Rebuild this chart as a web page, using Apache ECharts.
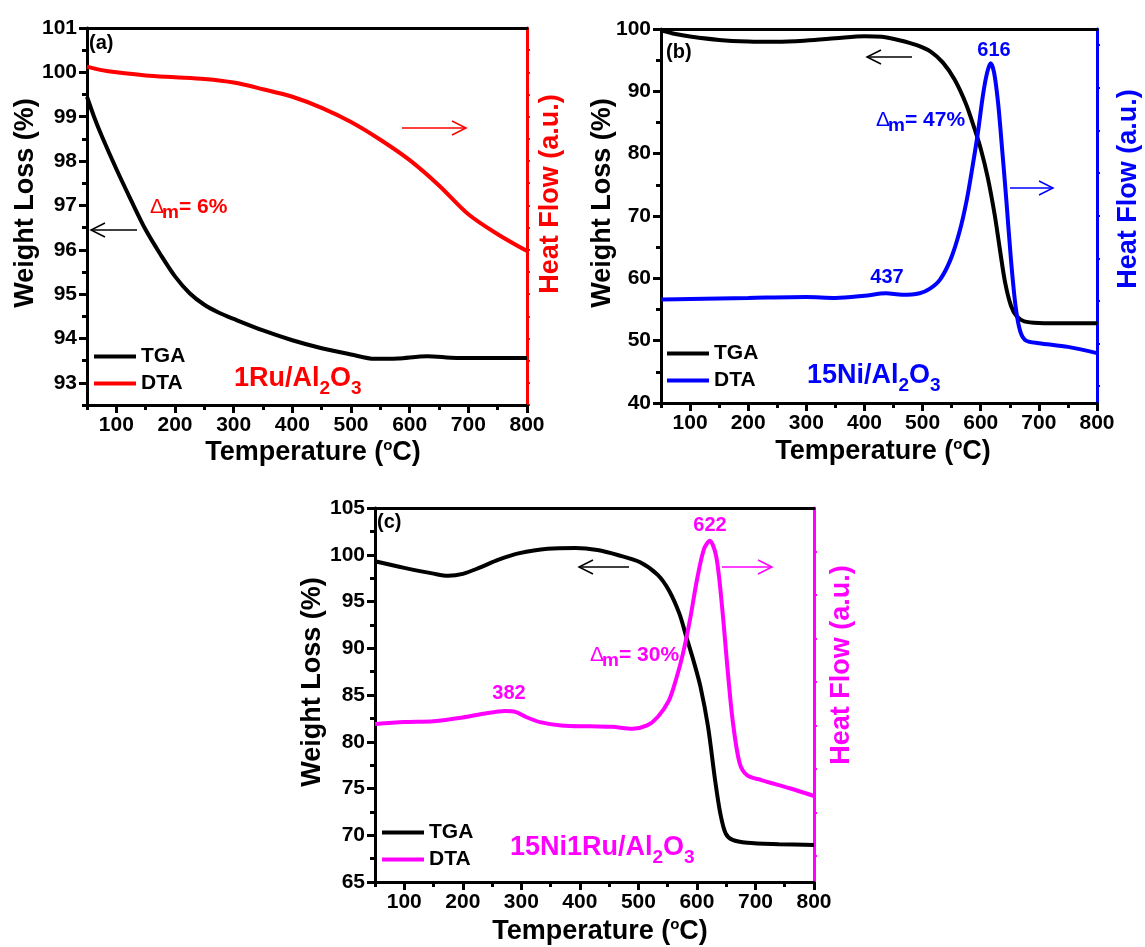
<!DOCTYPE html>
<html>
<head>
<meta charset="utf-8">
<script src="https://cdn.jsdelivr.net/npm/echarts@6/dist/echarts.min.js"></script>
<style>html,body{margin:0;padding:0;background:#fff}#chart{width:1145px;height:947px}</style>
</head>
<body>
<div id="chart"></div>
<script>
// ---------------- data ----------------
const tempMajor = [100, 200, 300, 400, 500, 600, 700, 800];
const tempMinor = [50, 150, 250, 350, 450, 550, 650, 750];

// (a) 1Ru/Al2O3
const tgaA = [[50,99.45],[62,99.0],[75,98.57],[100,97.82],[125,97.12],[150,96.45],[175,95.9],[200,95.4],[225,95.02],[250,94.76],[275,94.58],[300,94.44],[350,94.18],[400,93.96],[450,93.78],[500,93.64],[540,93.54],[580,93.55],[630,93.6],[680,93.56],[740,93.56],[800,93.56]];
const dtaA = [[50,100.13],[75,100.05],[100,100.0],[150,99.93],[200,99.89],[250,99.85],[300,99.77],[350,99.62],[400,99.45],[450,99.2],[500,98.88],[550,98.48],[600,98.02],[650,97.45],[700,96.8],[750,96.35],[800,95.97]];
const wlMajorA = [93, 94, 95, 96, 97, 98, 99, 100, 101];
const wlMinorA = [92.5, 93.5, 94.5, 95.5, 96.5, 97.5, 98.5, 99.5, 100.5];
const hfTicksA = [92.5, 93, 93.5, 94, 94.5, 95, 95.5, 96, 96.5, 97, 97.5, 98, 98.5, 99, 99.5, 100, 100.5];

// (b) 15Ni/Al2O3
const tgaB = [[50,99.8],[75,99.2],[100,98.8],[150,98.25],[200,98.0],[250,97.95],[300,98.15],[350,98.5],[400,98.85],[430,98.75],[460,98.2],[490,97.4],[515,96.3],[535,94.6],[555,91.9],[575,87.9],[590,83.8],[600,80.8],[612,76.2],[624,70.2],[633,64.6],[642,59.3],[652,55.6],[662,53.9],[675,53.1],[700,52.85],[750,52.8],[800,52.8]];
const dtaB = [[50,56.6],[100,56.7],[200,56.85],[300,57.0],[350,56.85],[400,57.2],[437,57.6],[465,57.35],[495,57.6],[512,58.3],[530,59.8],[548,63.0],[563,67.3],[576,72.6],[586,78.0],[595,83.3],[604,89.5],[611,93.0],[617,94.5],[623,93.0],[630,88.0],[637,80.5],[644,72.6],[652,63.0],[660,55.5],[668,51.5],[678,50.0],[700,49.6],[750,49.0],[800,48.0]];
const wlMajorB = [40, 50, 60, 70, 80, 90, 100];
const wlMinorB = [45, 55, 65, 75, 85, 95];
const hfTicksB = [42.7, 49.5, 56.4, 63.2, 70.0, 76.9, 83.7, 90.5, 97.4];

// (c) 15Ni1Ru/Al2O3
const tgaC = [[50,99.3],[100,98.6],[150,97.98],[175,97.75],[200,97.95],[230,98.65],[260,99.45],[295,100.15],[345,100.65],[393,100.72],[430,100.5],[466,99.95],[503,99.2],[533,97.85],[552,96.2],[570,93.7],[582,91.2],[594,88.7],[606,85.9],[619,81.6],[631,75.9],[640,72.3],[649,70.2],[661,69.5],[686,69.2],[740,69.05],[800,68.95]];
const dtaC = [[50,81.9],[100,82.1],[150,82.2],[200,82.6],[235,83.0],[272,83.3],[290,83.2],[308,82.65],[332,82.1],[368,81.75],[417,81.65],[455,81.6],[490,81.4],[515,81.75],[533,82.65],[552,84.4],[564,86.6],[576,89.4],[588,93.0],[600,97.3],[612,100.6],[622,101.5],[633,99.8],[643,94.4],[652,88.0],[661,82.3],[673,77.7],[686,76.4],[710,75.9],[760,75.0],[800,74.2]];
const wlMajorC = [65, 70, 75, 80, 85, 90, 95, 100, 105];
const wlMinorC = [67.5, 72.5, 77.5, 82.5, 87.5, 92.5, 97.5, 102.5];
const hfTicksC = [67.8, 72.45, 77.1, 81.75, 86.4, 91.05, 95.7, 100.35];

const seriesNames = ['TGA', 'DTA'];
const xTitle = 'Temperature ({o|o}C)';
const yTitle = 'Weight Loss (%)';
const y2Title = 'Heat Flow (a.u.)';

// ---------------- layout / styles ----------------
const FONT = '"Liberation Sans", Arial, Helvetica, sans-serif';
const RED = '#ff0000', BLUE = '#0000ff', MAG = '#ff00ff';

const panels = [
  { grid: {left: 87, top: 28, width: 440, height: 377}, yMin: 92.5, yMax: 101, yStep: 0.5,
    tga: tgaA, dta: dtaA, major: wlMajorA, minor: wlMinorA, hf: hfTicksA, color: RED, legend: {left: 94, top: 346} },
  { grid: {left: 661, top: 29, width: 436, height: 374}, yMin: 40, yMax: 100, yStep: 5,
    tga: tgaB, dta: dtaB, major: wlMajorB, minor: wlMinorB, hf: hfTicksB, color: BLUE, legend: {left: 667, top: 343} },
  { grid: {left: 375, top: 508, width: 439, height: 374}, yMin: 65, yMax: 105, yStep: 2.5,
    tga: tgaC, dta: dtaC, major: wlMajorC, minor: wlMinorC, hf: hfTicksC, color: MAG, legend: {left: 382, top: 822} }
];

const labelStyle = {fontFamily: FONT, fontWeight: 'bold', fontSize: 21, color: '#000'};

const option = {
  backgroundColor: '#fff', animation: false,
  grid: [], xAxis: [], yAxis: [], series: [], legend: [], graphic: []
};

panels.forEach((p, gi) => {
  option.grid.push(Object.assign({containLabel: false}, p.grid));
  // x axes: main, minor ticks, top line
  option.xAxis.push({
    type: 'value', gridIndex: gi, position: 'bottom', min: 50, max: 800, interval: 50,
    axisLine: {onZero: false, lineStyle: {color: '#000', width: 3}},
    axisTick: {show: true, customValues: tempMajor, length: 8, lineStyle: {color: '#000', width: 3}},
    axisLabel: Object.assign({customValues: tempMajor, margin: 10,
      formatter: v => (v % 100 === 0 ? String(v) : '')}, labelStyle),
    splitLine: {show: false}
  });
  option.xAxis.push({
    type: 'value', gridIndex: gi, position: 'bottom', min: 50, max: 800, interval: 50,
    axisLine: {show: false, onZero: false},
    axisTick: {show: true, customValues: tempMinor, length: 5, lineStyle: {color: '#000', width: 3}},
    axisLabel: {show: false}, splitLine: {show: false}
  });
  option.xAxis.push({
    type: 'value', gridIndex: gi, position: 'top', min: 50, max: 800, interval: 50,
    axisLine: {onZero: false, lineStyle: {color: '#000', width: 3}},
    axisTick: {show: false}, axisLabel: {show: false}, splitLine: {show: false}
  });
  // y axes: left main, left minor, right heat flow
  option.yAxis.push({
    type: 'value', gridIndex: gi, position: 'left', min: p.yMin, max: p.yMax, interval: p.yStep,
    axisLine: {onZero: false, lineStyle: {color: '#000', width: 3}},
    axisTick: {show: true, customValues: p.major, length: 8, lineStyle: {color: '#000', width: 3}},
    axisLabel: Object.assign({customValues: p.major, margin: 10,
      formatter: v => (p.major.indexOf(v) >= 0 ? String(v) : '')}, labelStyle),
    splitLine: {show: false}
  });
  option.yAxis.push({
    type: 'value', gridIndex: gi, position: 'left', min: p.yMin, max: p.yMax, interval: p.yStep,
    axisLine: {show: false, onZero: false},
    axisTick: {show: true, customValues: p.minor, length: 5, lineStyle: {color: '#000', width: 3}},
    axisLabel: {show: false}, splitLine: {show: false}
  });
  option.yAxis.push({
    type: 'value', gridIndex: gi, position: 'right', min: p.yMin, max: p.yMax, interval: p.yStep,
    axisLine: {onZero: false, lineStyle: {color: p.color, width: 3}},
    axisTick: {show: true, customValues: p.hf, length: 3, lineStyle: {color: p.color, width: 2}},
    axisLabel: {show: false}, splitLine: {show: false}
  });
  option.series.push({
    type: 'line', name: seriesNames[0], xAxisIndex: gi * 3, yAxisIndex: gi * 3,
    data: p.tga, showSymbol: false, symbol: 'none', smooth: 0.3,
    lineStyle: {color: '#000', width: 4}, itemStyle: {color: '#000'}
  });
  option.series.push({
    type: 'line', name: seriesNames[1], xAxisIndex: gi * 3, yAxisIndex: gi * 3 + 2,
    data: p.dta, showSymbol: false, symbol: 'none', smooth: 0.3,
    lineStyle: {color: p.color, width: 4}, itemStyle: {color: p.color}
  });
  option.legend.push({
    orient: 'vertical', left: p.legend.left, top: p.legend.top, padding: 0,
    itemWidth: 42, itemHeight: 4, itemGap: 6, icon: 'rect', selectedMode: false,
    textStyle: {fontFamily: FONT, fontWeight: 'bold', fontSize: 21, color: '#000', lineHeight: 21},
    data: [
      {name: seriesNames[0], itemStyle: {color: '#000', borderWidth: 0}},
      {name: seriesNames[1], itemStyle: {color: p.color, borderWidth: 0}}
    ]
  });
});

// ---------------- annotations ----------------
function txt(x, y, text, opt) {
  opt = opt || {};
  return {
    type: 'text', x: x, y: y, rotation: opt.rot || 0, z: 100,
    style: {
      text: text, fill: opt.color || '#000', fontFamily: FONT,
      fontWeight: opt.weight || 'bold', fontSize: opt.size || 20,
      lineHeight: opt.lh, align: opt.align || 'center', textAlign: opt.align || 'center',
      verticalAlign: 'middle', textVerticalAlign: 'middle', rich: opt.rich
    }
  };
}
function arrow(x1, x2, y, color) {
  const d = x2 > x1 ? 1 : -1;
  return [
    {type: 'polyline', z: 100, shape: {points: [[x1, y], [x2, y]]}, style: {stroke: color, lineWidth: 1.5, fill: null}},
    {type: 'polyline', z: 100, shape: {points: [[x2 - d * 14, y - 7], [x2, y], [x2 - d * 14, y + 7]]}, style: {stroke: color, lineWidth: 1.5, fill: null}}
  ];
}
function formula(x, y, text, color) {
  return txt(x, y, text, {color: color, size: 27, lh: 30, align: 'left', rich: {
    s: {fontFamily: FONT, fontWeight: 'bold', fontSize: 19, lineHeight: 19, padding: [20, 0, 0, 0], fill: color, color: color}
  }});
}
function delta(x, y, text, color) {
  return txt(x, y, '{d|Δ}{m|m}{t|' + text + '}', {color: color, align: 'left', rich: {
    d: {fontFamily: FONT, fontWeight: 'normal', fontSize: 21, lineHeight: 22, width: 12, fill: color, color: color},
    m: {fontFamily: FONT, fontWeight: 'bold', fontSize: 19, lineHeight: 19, padding: [11, 0, 0, 0], width: 17, fill: color, color: color},
    t: {fontFamily: FONT, fontWeight: 'bold', fontSize: 21, lineHeight: 22, fill: color, color: color}
  }});
}
const supRich = {o: {fontFamily: FONT, fontWeight: 'bold', fontSize: 15, lineHeight: 15, padding: [0, 0, 14, 0], fill: '#000', color: '#000'}};
function titles(cx, xy, wx, wy, hx, hy, color) {
  return [
    txt(cx, xy, xTitle, {size: 27, lh: 30, rich: supRich}),
    txt(wx, wy, yTitle, {size: 27, rot: Math.PI / 2}),
    txt(hx, hy, y2Title, {size: 27, rot: Math.PI / 2, color: color})
  ];
}

const g = option.graphic;
// panel (a)
g.push(txt(89, 43, '(a)', {align: 'left', size: 20}));
g.push(delta(150, 207, '= 6%', RED));
g.push(...arrow(137, 91, 230, '#000'));
g.push(...arrow(402, 466, 128, RED));
g.push(formula(234, 379, '1Ru/Al{s|2}O{s|3}', RED));
g.push(...titles(313, 453, 26, 203, 551, 194, RED));
// panel (b)
g.push(txt(666, 52, '(b)', {align: 'left', size: 20}));
g.push(...arrow(912, 867, 57, '#000'));
g.push(txt(994, 50, '616', {color: BLUE, size: 20}));
g.push(delta(876, 120, '= 47%', BLUE));
g.push(...arrow(1010, 1053, 188, BLUE));
g.push(txt(887, 277, '437', {color: BLUE, size: 20}));
g.push(formula(807, 376, '15Ni/Al{s|2}O{s|3}', BLUE));
g.push(...titles(883, 452, 603, 203, 1129, 189, BLUE));
// panel (c)
g.push(txt(377, 522, '(c)', {align: 'left', size: 20}));
g.push(txt(710, 525, '622', {color: MAG, size: 20}));
g.push(...arrow(629, 579, 567, '#000'));
g.push(...arrow(722, 772, 567, MAG));
g.push(delta(590, 655, '= 30%', MAG));
g.push(txt(509, 693, '382', {color: MAG, size: 20}));
g.push(formula(510, 848, '15Ni1Ru/Al{s|2}O{s|3}', MAG));
g.push(...titles(600, 932, 313, 682, 842, 665, MAG));

const chart = echarts.init(document.getElementById('chart'), null, {renderer: 'canvas'});
chart.setOption(option);
</script>
</body>
</html>
